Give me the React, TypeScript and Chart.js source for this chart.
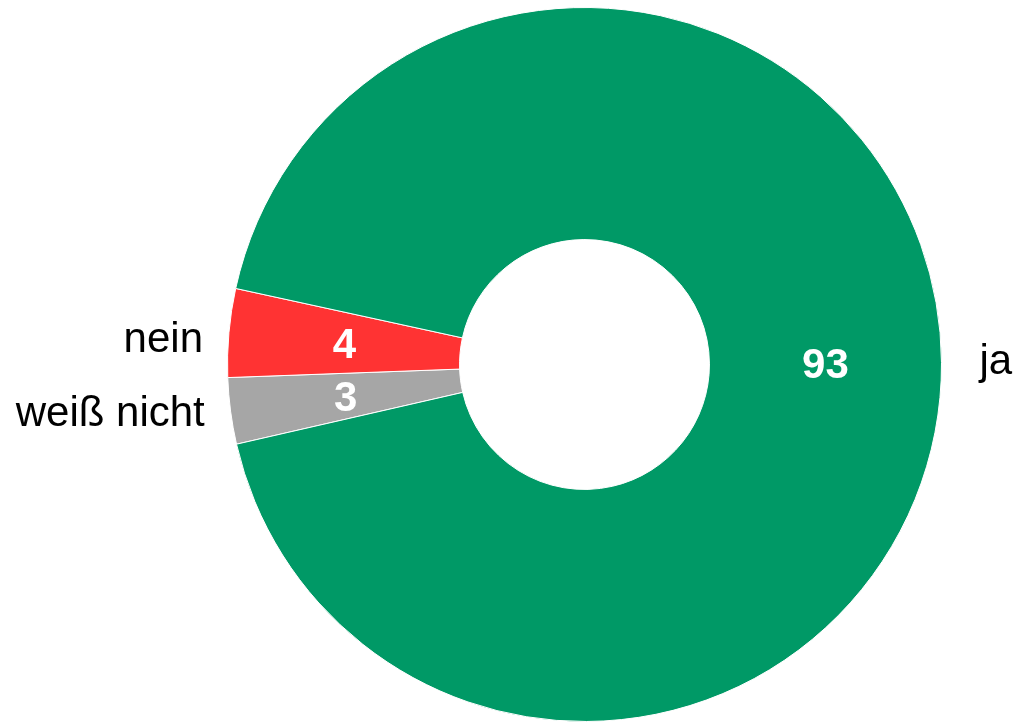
import React, { useEffect, useRef } from "react";
import { Chart, registerables } from "chart.js";

Chart.register(...registerables);

const categories = ["weiß nicht", "nein", "ja"];
const values = [3, 4, 93];
const colors = ["#A6A6A6", "#FF3333", "#009966"];

const labelPlugin = {
  id: "sliceLabels",
  afterDatasetsDraw(chart: any) {
    const ctx = chart.ctx;
    const meta = chart.getDatasetMeta(0);
    ctx.save();
    meta.data.forEach((arc: any, i: number) => {
      const { x, y, startAngle, endAngle, innerRadius, outerRadius } = arc.getProps(
        ["x", "y", "startAngle", "endAngle", "innerRadius", "outerRadius"],
        true
      );
      const mid = (startAngle + endAngle) / 2;
      const rIn = (innerRadius + outerRadius) / 2;
      ctx.fillStyle = "#ffffff";
      ctx.font = "bold 42px 'Liberation Sans', Arial, sans-serif";
      ctx.textAlign = "center";
      ctx.textBaseline = "middle";
      ctx.fillText(String(values[i]), x + Math.cos(mid) * rIn, y + Math.sin(mid) * rIn + 3);

      const left = Math.cos(mid) < 0;
      const rOut = outerRadius + (left ? 26 : 38);
      const lx = x + Math.cos(mid) * rOut;
      const ly = y + Math.sin(mid) * rOut * (left && Math.sin(mid) < 0 ? 0.7 : 1);
      ctx.fillStyle = "#000000";
      ctx.font = "42px 'Liberation Sans', Arial, sans-serif";
      ctx.textAlign = left ? "right" : "left";
      ctx.textBaseline = "middle";
      ctx.fillText(categories[i], lx, ly);
    });
    ctx.restore();
  },
};

export default function App() {
  const canvasRef = useRef<HTMLCanvasElement>(null);

  useEffect(() => {
    document.body.style.margin = "0";
    const chart = new Chart(canvasRef.current as HTMLCanvasElement, {
      type: "doughnut",
      data: {
        labels: categories,
        datasets: [
          {
            data: values,
            backgroundColor: colors,
            borderColor: "#ffffff",
            borderWidth: 1,
          },
        ],
      },
      options: {
        animation: false,
        responsive: false,
        cutout: "35%",
        rotation: 257.1,
        layout: { padding: { left: 227, right: 71, top: 7, bottom: 0 } },
        plugins: {
          legend: { display: false },
          tooltip: { enabled: false },
        },
      },
      plugins: [labelPlugin],
    });
    return () => chart.destroy();
  }, []);

  return (
    <div style={{ width: 1013, height: 722 }}>
      <canvas ref={canvasRef} width={1013} height={722} />
    </div>
  );
}
